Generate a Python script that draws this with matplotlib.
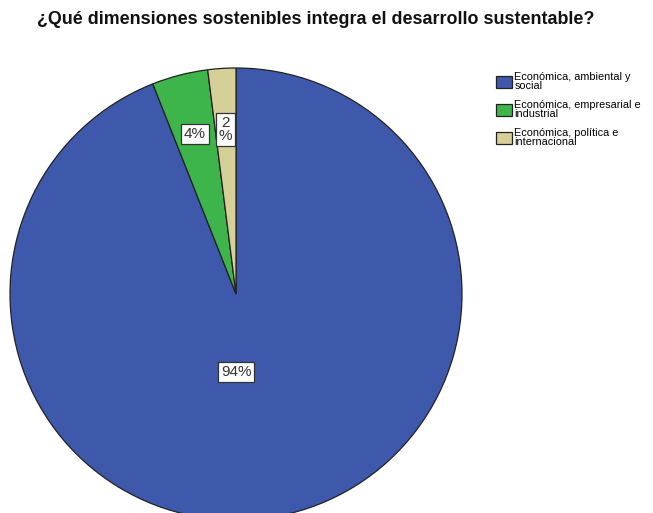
import numpy as np
import matplotlib.pyplot as plt

# Datos
categorias = ['Económica, ambiental y\nsocial', 'Económica, empresarial e\nindustrial', 'Económica, política e\ninternacional']
porcentajes = [94, 4, 2]
etiquetas = ['94%', '4%', '2\n%']
colores = ['#3E58AC', '#3DB54A', '#D6CF98']

plt.rcParams['font.family'] = ['Liberation Sans', 'DejaVu Sans']

fig = plt.figure(figsize=(6.53, 5.13), dpi=100)
ax = fig.add_axes([0, 0, 1, 1])

cx, cy, r = 236, 513 - 294, 226
wedges, _ = ax.pie(porcentajes, colors=colores, startangle=90, counterclock=False,
                   center=(cx, cy), radius=r, frame=True,
                   wedgeprops=dict(edgecolor='#222222', linewidth=0.9))
ax.set_xlim(0, 653)
ax.set_ylim(0, 513)
ax.axis('off')

# Etiquetas de porcentaje
dist = [0.345, 0.73, 0.73]
for w, lab, d, i in zip(wedges, etiquetas, dist, range(3)):
    ang = np.deg2rad((w.theta1 + w.theta2) / 2) if i > 0 else np.deg2rad(-90)
    x = cx + d * r * np.cos(ang)
    y = cy + d * r * np.sin(ang)
    ax.text(x, y, lab, ha='center', va='center', fontsize=11, color='#333333',
            linespacing=0.95,
            bbox=dict(boxstyle='square,pad=0.18', fc='white', ec='#333333', lw=0.9))

fig.text(37 / 653, 1 - 20 / 513, '¿Qué dimensiones sostenibles integra el desarrollo sustentable?',
         ha='left', va='center', fontsize=12.9, fontweight='bold', color='#111111')

leg = fig.legend(wedges, categorias, loc='upper left', bbox_to_anchor=(491 / 653, 1 - 67 / 513),
                 frameon=False, fontsize=7.8, handlelength=1.4, handleheight=1.4,
                 handletextpad=0.25, labelspacing=0.85, borderpad=0)
for t in leg.get_texts():
    t.set_linespacing(0.85)

fig.savefig('out.png', dpi=100)
